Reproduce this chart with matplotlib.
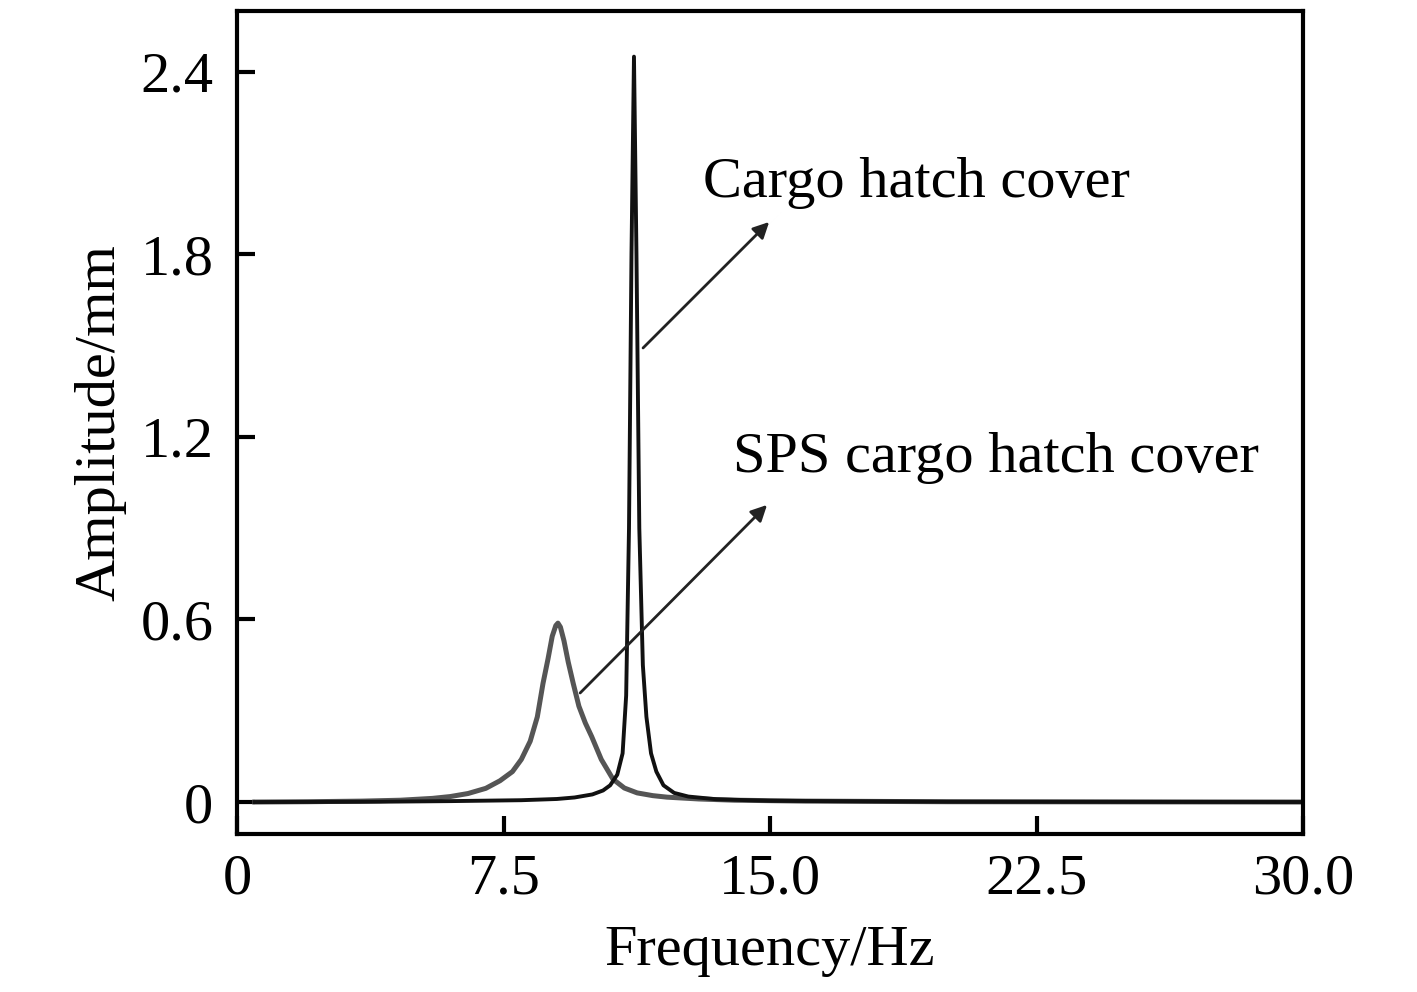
import matplotlib.pyplot as plt

plt.rcParams['font.family'] = ['Liberation Serif', 'DejaVu Serif']

# Data (frequency in Hz, amplitude in mm)
freq_cargo = [0.5, 4.0, 6.0, 8.0, 9.0, 9.5, 10.0, 10.3, 10.5, 10.7, 10.85, 10.95, 11.03,
              11.10, 11.17, 11.24, 11.32, 11.42, 11.52, 11.65, 11.8, 12.0, 12.3, 12.7,
              13.5, 15.0, 20.0, 30.0]
amp_cargo = [0.0, 0.001, 0.003, 0.006, 0.01, 0.015, 0.025, 0.038, 0.055, 0.09, 0.16, 0.35,
             0.9, 1.8, 2.45, 1.8, 0.9, 0.45, 0.28, 0.16, 0.1, 0.055, 0.03, 0.018,
             0.009, 0.004, 0.001, 0.0]

freq_sps = [0.5, 2.0, 3.5, 4.6, 5.5, 6.0, 6.5, 7.0, 7.4, 7.75, 8.0, 8.25, 8.45, 8.61, 8.75,
            8.87, 8.97, 9.03, 9.1, 9.2, 9.32, 9.46, 9.62, 9.8, 9.98, 10.25, 10.58, 10.9,
            11.26, 11.7, 12.1, 13.0, 14.0, 16.0, 20.0, 30.0]
amp_sps = [0.0, 0.001, 0.003, 0.006, 0.012, 0.018, 0.028, 0.045, 0.07, 0.1, 0.14, 0.2, 0.28,
           0.39, 0.47, 0.545, 0.58, 0.588, 0.575, 0.53, 0.46, 0.39, 0.315, 0.26, 0.215,
           0.14, 0.075, 0.046, 0.03, 0.021, 0.016, 0.01, 0.006, 0.003, 0.001, 0.0]

xticks = [0, 7.5, 15.0, 22.5, 30.0]
xticklabels = ['0', '7.5', '15.0', '22.5', '30.0']
yticks = [0, 0.6, 1.2, 1.8, 2.4]
yticklabels = ['0', '0.6', '1.2', '1.8', '2.4']

fig = plt.figure(figsize=(14.17, 9.92), dpi=100)
ax = fig.add_axes([0.1673, 0.1593, 0.7523, 0.8296])

ax.plot(freq_sps, amp_sps, color='#555555', lw=3.6, solid_joinstyle='round')
ax.plot(freq_cargo, amp_cargo, color='#111111', lw=2.8, solid_joinstyle='round')

# annotation arrows
ax.annotate('', xy=(15.03, 1.913), xytext=(11.37, 1.486),
            arrowprops=dict(arrowstyle='-|>', color='#222222', lw=2, mutation_scale=24))
ax.annotate('', xy=(14.97, 0.983), xytext=(9.60, 0.352),
            arrowprops=dict(arrowstyle='-|>', color='#222222', lw=2, mutation_scale=24))
ax.text(13.12, 2.035, 'Cargo hatch cover', fontsize=42, va='center', ha='left')
ax.text(13.96, 1.13, 'SPS cargo hatch cover', fontsize=42, va='center', ha='left')

ax.set_xlim(0, 30)
ax.set_ylim(-0.105, 2.60)
ax.set_xticks(xticks)
ax.set_xticklabels(xticklabels)
ax.set_yticks(yticks)
ax.set_yticklabels(yticklabels)
ax.tick_params(direction='in', length=13, width=3, labelsize=42, pad=14,
               top=False, right=False)
ax.tick_params(axis='y', pad=17)
for s in ax.spines.values():
    s.set_linewidth(3)

ax.set_xlabel('Frequency/Hz', fontsize=42, labelpad=14)
ax.set_ylabel('Amplitude/mm', fontsize=42, labelpad=10)

fig.savefig('out.png', dpi=100)
